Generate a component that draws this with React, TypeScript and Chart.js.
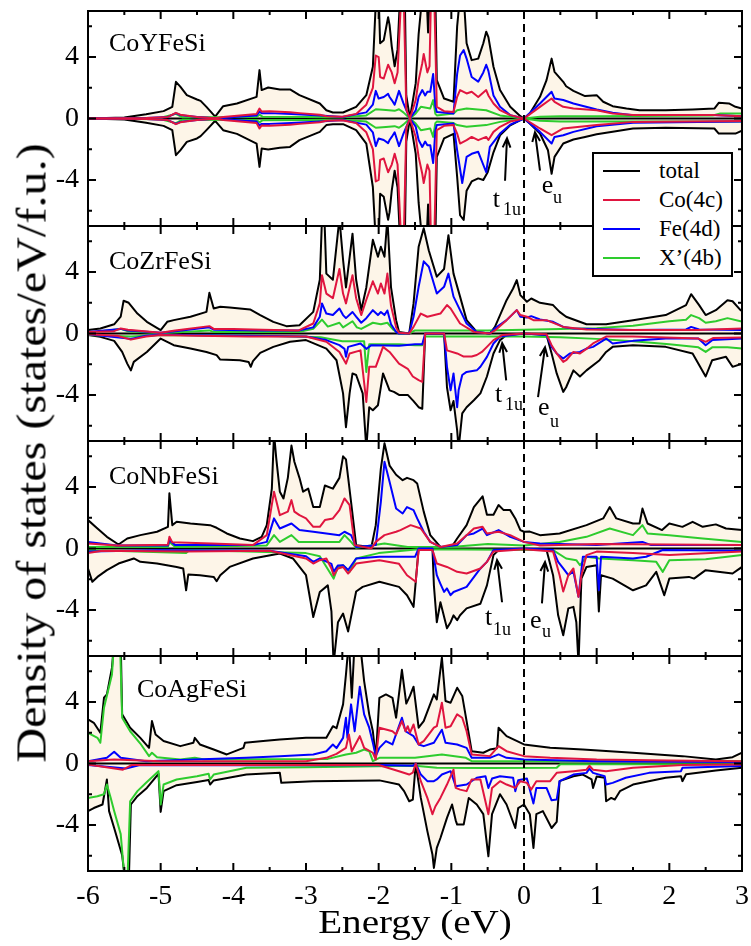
import React, { useEffect, useRef } from "react";
import { Chart, registerables } from "chart.js";
Chart.register(...registerables);

type Pt = [number, number];

// ---------------- DATA (energy in eV, DOS in states/eV/f.u.) ----------------
// Panel 1: CoYFeSi
const p1TotUp: Pt[] = [[-6,0],[-5.5,0.07],[-5.2,0.28],[-4.96,0.48],[-4.84,0.76],[-4.79,2.39],[-4.73,2.07],[-4.64,1.52],[-4.5,1.24],[-4.45,1.15],[-4.37,0.76],[-4.25,0.12],[-4.14,0.8],[-3.95,0.98],[-3.68,1.41],[-3.64,3.15],[-3.61,1.85],[-3.52,2.02],[-3.36,1.89],[-3.22,1.89],[-3.09,1.52],[-2.81,0.98],[-2.72,0.54],[-2.63,0.39],[-2.49,0.39],[-2.31,0.76],[-2.17,1.52],[-2.08,3.37],[-2.04,7.5],[-2.0,8],[-1.98,4.9],[-1.93,5.1],[-1.87,6.6],[-1.85,6.1],[-1.82,4.7],[-1.78,3.4],[-1.74,4.5],[-1.705,8],[-1.64,8],[-1.62,1.5],[-1.57,0],[-1.49,2.3],[-1.45,5.5],[-1.40,8],[-1.34,8],[-1.32,5.6],[-1.30,8],[-1.22,8],[-1.20,2.5],[-1.1,1.3],[-0.97,1.09],[-0.92,6],[-0.88,8],[-0.83,8],[-0.79,4.9],[-0.72,3.8],[-0.63,3.9],[-0.56,4.9],[-0.52,5.65],[-0.49,5.3],[-0.42,3.37],[-0.33,1.85],[-0.19,0.76],[-0.05,0.15],[0,0],[0.08,0.33],[0.22,1.41],[0.31,2.5],[0.38,3.9],[0.42,3.04],[0.54,2.39],[0.58,2.1],[0.68,1.8],[0.84,1.46],[1.0,1.52],[1.09,1.09],[1.22,0.8],[1.41,0.65],[1.59,0.54],[1.95,0.54],[2.32,0.59],[2.62,0.65],[2.68,1.02],[2.82,0.98],[2.91,0.76],[3,0.65]];
const p1TotDn: Pt[] = [[-6,0],[-5.5,-0.07],[-5.2,-0.28],[-4.96,-0.48],[-4.84,-0.76],[-4.79,-2.39],[-4.73,-2.07],[-4.64,-1.52],[-4.5,-1.3],[-4.45,-1.15],[-4.37,-0.76],[-4.25,-0.15],[-4.14,-0.76],[-3.95,-1.0],[-3.68,-1.63],[-3.64,-3.15],[-3.61,-1.96],[-3.52,-2.02],[-3.36,-1.9],[-3.22,-1.85],[-3.09,-1.41],[-2.81,-0.87],[-2.72,-0.43],[-2.63,-0.37],[-2.49,-0.37],[-2.31,-0.76],[-2.17,-1.63],[-2.08,-4.46],[-2.04,-8],[-2.0,-8],[-1.98,-4.9],[-1.93,-5.1],[-1.87,-6.6],[-1.85,-6.1],[-1.82,-4.7],[-1.78,-3.4],[-1.74,-4.5],[-1.705,-8],[-1.64,-8],[-1.62,-1.5],[-1.57,0],[-1.49,-2.3],[-1.45,-5.5],[-1.40,-8],[-1.34,-8],[-1.32,-5.6],[-1.30,-8],[-1.22,-8],[-1.20,-2.5],[-1.1,-1.3],[-0.97,-1.0],[-0.92,-3.8],[-0.88,-6.3],[-0.83,-6.6],[-0.79,-4.7],[-0.72,-4.1],[-0.63,-3.9],[-0.56,-4.0],[-0.5,-3.5],[-0.42,-2.2],[-0.33,-1.1],[-0.19,-0.45],[-0.05,-0.1],[0,0],[0.08,-0.33],[0.22,-0.98],[0.33,-2.07],[0.38,-3.6],[0.42,-2.5],[0.54,-1.63],[0.68,-1.37],[0.84,-1.2],[1.0,-1.02],[1.22,-0.87],[1.5,-0.65],[1.95,-0.6],[2.62,-0.65],[2.68,-0.98],[2.91,-0.98],[3,-0.8]];
const p1CoUp: Pt[] = [[-6,0],[-5.2,0.03],[-4.9,0.1],[-4.79,0.37],[-4.73,0.25],[-4.5,0.1],[-4.25,0.02],[-4.14,0.1],[-3.68,0.3],[-3.64,0.65],[-3.61,0.45],[-3.5,0.48],[-3.22,0.4],[-3.09,0.35],[-2.81,0.25],[-2.72,0.15],[-2.5,0.12],[-2.31,0.3],[-2.17,0.9],[-2.08,2.0],[-2.04,4.1],[-2.0,4.0],[-1.98,2.7],[-1.93,2.6],[-1.87,3.5],[-1.85,3.3],[-1.82,3.0],[-1.78,2.3],[-1.74,3.0],[-1.69,8],[-1.655,8],[-1.62,0.6],[-1.57,0],[-1.49,1.2],[-1.45,2.5],[-1.40,3.6],[-1.38,4.2],[-1.33,3.0],[-1.30,3.4],[-1.28,8],[-1.235,8],[-1.2,0.76],[-1.1,0.48],[-0.97,0.43],[-0.92,1.41],[-0.88,1.85],[-0.79,1.63],[-0.72,1.74],[-0.63,1.4],[-0.52,1.85],[-0.49,1.5],[-0.42,0.98],[-0.33,0.54],[-0.19,0.22],[0,0],[0.22,0.76],[0.38,1.3],[0.42,1.09],[0.54,0.76],[0.68,0.65],[1.0,0.54],[1.22,0.33],[1.5,0.22],[2.6,0.22],[3,0.15]];
const p1CoDn: Pt[] = [[-6,0],[-5.2,-0.03],[-4.9,-0.1],[-4.79,-0.37],[-4.73,-0.25],[-4.5,-0.1],[-4.25,-0.02],[-4.14,-0.1],[-3.68,-0.3],[-3.64,-0.65],[-3.61,-0.45],[-3.5,-0.48],[-3.22,-0.4],[-3.09,-0.35],[-2.81,-0.25],[-2.72,-0.15],[-2.5,-0.12],[-2.31,-0.3],[-2.17,-0.9],[-2.08,-2.0],[-2.04,-4.1],[-2.0,-4.0],[-1.98,-2.7],[-1.93,-2.6],[-1.87,-3.5],[-1.85,-3.3],[-1.82,-3.0],[-1.78,-2.3],[-1.74,-3.0],[-1.69,-8],[-1.655,-8],[-1.62,-0.6],[-1.57,0],[-1.49,-1.2],[-1.45,-2.5],[-1.40,-3.6],[-1.38,-4.2],[-1.33,-3.0],[-1.30,-3.4],[-1.28,-8],[-1.235,-8],[-1.2,-0.76],[-1.1,-0.48],[-0.97,-0.43],[-0.92,-0.98],[-0.88,-1.63],[-0.79,-1.41],[-0.72,-1.2],[-0.63,-1.41],[-0.52,-1.2],[-0.49,-1.4],[-0.42,-0.87],[-0.33,-0.54],[-0.19,-0.2],[0,0],[0.22,-0.65],[0.38,-1.09],[0.54,-0.65],[1.0,-0.43],[1.5,-0.22],[3,-0.17]];
const p1FeUp: Pt[] = [[-6,0],[-5.2,0.03],[-4.9,0.1],[-4.79,0.35],[-4.73,0.22],[-4.5,0.1],[-4.25,0.02],[-3.68,0.2],[-3.64,0.45],[-3.61,0.35],[-3.5,0.35],[-3.2,0.3],[-2.8,0.2],[-2.5,0.1],[-2.17,0.4],[-2.08,0.9],[-2.04,1.8],[-2.0,1.3],[-1.93,1.4],[-1.87,1.6],[-1.85,1.4],[-1.82,1.2],[-1.78,0.9],[-1.72,1.8],[-1.66,1.0],[-1.57,0],[-1.49,0.54],[-1.45,1.4],[-1.40,1.85],[-1.36,1.5],[-1.33,1.74],[-1.29,1.74],[-1.25,2.9],[-1.22,0.8],[-1.2,0.43],[-0.97,0.33],[-0.92,2.9],[-0.88,4.1],[-0.83,4.45],[-0.79,3.9],[-0.72,2.7],[-0.63,2.4],[-0.56,3.0],[-0.52,3.5],[-0.49,3.1],[-0.42,1.5],[-0.33,0.76],[-0.19,0.22],[0,0],[0.22,0.98],[0.38,1.74],[0.42,1.3],[0.54,1.2],[0.68,0.98],[1.0,0.59],[1.22,0.37],[1.5,0.22],[2.6,0.22],[3,0.15]];
const p1FeDn: Pt[] = [[-6,0],[-5.2,-0.03],[-4.9,-0.1],[-4.79,-0.35],[-4.73,-0.22],[-4.5,-0.1],[-4.25,-0.02],[-3.68,-0.2],[-3.64,-0.45],[-3.61,-0.35],[-3.5,-0.35],[-3.2,-0.3],[-2.8,-0.2],[-2.5,-0.1],[-2.17,-0.4],[-2.08,-0.9],[-2.04,-1.8],[-2.0,-1.3],[-1.93,-1.4],[-1.87,-1.6],[-1.85,-1.4],[-1.82,-1.2],[-1.78,-0.9],[-1.72,-1.8],[-1.66,-1.0],[-1.57,0],[-1.49,-0.54],[-1.45,-1.4],[-1.40,-1.85],[-1.36,-1.5],[-1.33,-1.74],[-1.29,-1.74],[-1.25,-2.9],[-1.22,-0.8],[-1.2,-0.43],[-0.97,-0.33],[-0.92,-2.07],[-0.85,-4.2],[-0.79,-2.5],[-0.72,-2.3],[-0.63,-2.17],[-0.52,-3.5],[-0.47,-1.85],[-0.33,-0.98],[-0.19,-0.4],[0,0],[0.22,-0.87],[0.38,-1.63],[0.42,-1.2],[0.54,-1.09],[0.68,-0.87],[1.0,-0.5],[1.5,-0.28],[3,-0.2]];
const p1XUp: Pt[] = [[-6,0],[-5.0,0.05],[-4.79,0.3],[-4.7,0.08],[-3.68,0.1],[-3.64,0.25],[-3.6,0.12],[-2.5,0.08],[-2.17,0.2],[-2.04,0.6],[-1.9,0.55],[-1.78,0.5],[-1.72,0.6],[-1.66,0.4],[-1.57,0],[-1.49,0.33],[-1.42,0.76],[-1.29,0.65],[-1.25,1.2],[-1.22,0.3],[-1.2,0.2],[-0.97,0.33],[-0.92,0.54],[-0.79,0.65],[-0.52,0.54],[-0.33,0.2],[0,0],[0.22,0.12],[0.5,0.15],[1.0,0.15],[2.6,0.2],[2.7,0.33],[3,0.33]];
const p1XDn: Pt[] = [[-6,0],[-5.0,-0.05],[-4.79,-0.3],[-4.7,-0.08],[-3.68,-0.1],[-3.64,-0.25],[-3.6,-0.12],[-2.5,-0.08],[-2.17,-0.2],[-2.04,-0.6],[-1.9,-0.55],[-1.78,-0.5],[-1.72,-0.6],[-1.66,-0.4],[-1.57,0],[-1.49,-0.33],[-1.42,-0.76],[-1.29,-0.65],[-1.25,-1.2],[-1.22,-0.3],[-1.2,-0.2],[-0.97,-0.3],[-0.92,-0.43],[-0.79,-0.54],[-0.52,-0.43],[-0.33,-0.22],[0,0],[0.22,-0.15],[0.5,-0.2],[1,-0.2],[3,-0.2]];

// Panel 2: CoZrFeSi
const p2TotUp: Pt[] = [[-6,0.22],[-5.83,0.33],[-5.64,0.6],[-5.55,1.1],[-5.51,2.13],[-5.44,2.0],[-5.32,1.3],[-5.19,0.76],[-5.0,0.22],[-4.91,0.76],[-4.82,0.87],[-4.59,1.09],[-4.37,1.41],[-4.33,2.65],[-4.27,1.63],[-4.18,1.74],[-4.05,1.7],[-3.77,1.57],[-3.63,1.2],[-3.45,0.76],[-3.27,0.48],[-3.09,0.54],[-2.9,1.41],[-2.81,3.5],[-2.78,7.5],[-2.75,8],[-2.72,3.9],[-2.63,3.5],[-2.54,7.5],[-2.49,4.8],[-2.45,3.0],[-2.36,6.5],[-2.31,3.5],[-2.24,1.52],[-2.17,3.0],[-2.08,6.1],[-2.01,5.0],[-1.97,5.65],[-1.92,5.0],[-1.88,7.5],[-1.83,3.0],[-1.76,0.87],[-1.72,0.1],[-1.58,0],[-1.52,1.96],[-1.45,5.65],[-1.38,6.85],[-1.31,5.4],[-1.2,3.7],[-1.1,4.2],[-1.04,6.4],[-0.97,3.9],[-0.88,2.4],[-0.79,0.87],[-0.65,0.1],[-0.47,0],[-0.4,0.43],[-0.24,2.17],[-0.15,2.93],[-0.1,3.48],[-0.05,2.5],[0.04,2.07],[0.1,2.28],[0.22,2.0],[0.4,1.85],[0.49,1.41],[0.58,1.09],[0.86,0.6],[1.13,0.6],[1.5,0.87],[1.95,1.2],[2.23,1.85],[2.3,2.56],[2.41,1.85],[2.5,1.2],[2.64,1.52],[2.8,2.17],[2.87,2.1],[2.98,1.52],[3,1.5]];
const p2TotDn: Pt[] = [[-6,-0.1],[-5.83,-0.22],[-5.64,-0.48],[-5.53,-1.2],[-5.46,-1.96],[-5.41,-2.4],[-5.37,-1.85],[-5.19,-1.2],[-5.0,-0.33],[-4.91,-0.54],[-4.82,-0.76],[-4.59,-0.98],[-4.37,-1.2],[-4.23,-1.41],[-4.18,-1.7],[-3.91,-1.74],[-3.79,-1.85],[-3.76,-2.17],[-3.73,-1.8],[-3.63,-1.26],[-3.45,-0.87],[-3.22,-0.54],[-3.0,-0.43],[-2.72,-0.98],[-2.58,-1.74],[-2.49,-3.9],[-2.45,-6.1],[-2.4,-3.9],[-2.36,-2.6],[-2.31,-2.7],[-2.22,-3.9],[-2.17,-7.5],[-2.13,-4.8],[-2.08,-5.0],[-2.01,-4.67],[-1.94,-2.6],[-1.85,-3.7],[-1.79,-3.8],[-1.72,-4.0],[-1.6,-4.0],[-1.52,-4.4],[-1.45,-4.8],[-1.40,-4.9],[-1.36,0],[-1.1,0],[-1.06,-3.5],[-1.01,-5.0],[-0.97,-4.4],[-0.92,-6.3],[-0.9,-7.5],[-0.85,-5.2],[-0.79,-4.8],[-0.69,-4.35],[-0.6,-3.9],[-0.51,-2.8],[-0.42,-1.3],[-0.33,-0.43],[-0.24,-0.1],[0,0],[0.31,-0.1],[0.38,-1.3],[0.45,-2.6],[0.54,-3.8],[0.58,-3.5],[0.68,-2.4],[0.77,-2.8],[0.86,-2.4],[1.04,-1.74],[1.13,-1.2],[1.22,-0.87],[1.5,-0.76],[1.95,-0.87],[2.32,-1.3],[2.5,-2.8],[2.59,-1.74],[2.78,-1.52],[2.87,-2.17],[3,-1.96]];
const p2CoUp: Pt[] = [[-6,0.1],[-5.64,0.15],[-5.55,0.33],[-5.45,0.25],[-5.0,0.05],[-4.8,0.2],[-4.33,0.48],[-4.27,0.3],[-4.0,0.3],[-3.6,0.25],[-3.1,0.2],[-2.9,0.65],[-2.81,1.96],[-2.78,3.8],[-2.72,2.6],[-2.63,2.3],[-2.54,4.2],[-2.49,2.6],[-2.45,1.96],[-2.36,3.8],[-2.31,2.3],[-2.24,1.2],[-2.17,2.2],[-2.08,3.4],[-2.01,2.6],[-1.97,3.26],[-1.92,2.6],[-1.88,3.9],[-1.83,1.8],[-1.76,0.4],[-1.72,0.05],[-1.58,0],[-1.52,0.43],[-1.42,1.3],[-1.33,1.09],[-1.15,1.3],[-1.06,1.85],[-1.01,1.63],[-0.88,0.65],[-0.69,0.1],[-0.47,0],[-0.4,0.2],[-0.24,0.87],[-0.1,1.52],[-0.05,1.2],[0.04,1.09],[0.13,0.87],[0.31,0.87],[0.54,0.43],[0.86,0.26],[1.5,0.22],[2.4,0.22],[3,0.33]];
const p2CoDn: Pt[] = [[-6,-0.05],[-5.6,-0.15],[-5.41,-0.4],[-5.2,-0.2],[-5.0,-0.1],[-4.5,-0.15],[-3.8,-0.2],[-3.0,-0.2],[-2.72,-0.54],[-2.54,-1.2],[-2.45,-1.96],[-2.4,-1.3],[-2.25,-1.1],[-2.17,-4.46],[-2.13,-2.17],[-2.04,-2.17],[-1.94,-0.87],[-1.85,-1.2],[-1.72,-1.96],[-1.6,-2.3],[-1.53,-2.8],[-1.45,-3.04],[-1.40,-3.15],[-1.36,0],[-1.1,0],[-1.06,-1.1],[-0.92,-1.3],[-0.83,-1.5],[-0.72,-1.5],[-0.65,-1.4],[-0.58,-1.2],[-0.51,-0.87],[-0.42,-0.43],[-0.3,-0.1],[0,0],[0.31,-0.05],[0.38,-0.76],[0.45,-1.3],[0.54,-1.85],[0.58,-1.74],[0.68,-1.2],[0.77,-1.3],[0.86,-1.0],[0.95,-0.65],[1.13,-0.2],[1.5,-0.2],[2.4,-0.33],[2.5,-0.54],[2.6,-0.3],[3,-0.26]];
const p2FeUp: Pt[] = [[-6,0.1],[-5.55,0.3],[-5.45,0.2],[-5.0,0.05],[-4.8,0.15],[-4.33,0.4],[-4.27,0.25],[-3.6,0.2],[-3.1,0.2],[-2.9,0.4],[-2.81,1.09],[-2.78,1.96],[-2.72,1.3],[-2.63,1.2],[-2.54,1.63],[-2.49,1.2],[-2.45,1.0],[-2.36,1.4],[-2.31,1.1],[-2.24,0.7],[-2.17,1.0],[-2.08,1.52],[-2.01,1.2],[-1.97,1.4],[-1.92,1.2],[-1.88,1.5],[-1.83,0.6],[-1.76,0.1],[-1.72,0],[-1.58,0],[-1.52,1.09],[-1.45,3.04],[-1.38,4.7],[-1.31,4.35],[-1.2,2.6],[-1.1,3.04],[-1.04,3.9],[-0.97,2.4],[-0.88,1.52],[-0.79,0.65],[-0.65,0.1],[-0.47,0],[-0.4,0.33],[-0.24,0.87],[-0.1,1.52],[-0.05,1.09],[0.04,1.04],[0.1,1.13],[0.22,0.91],[0.4,0.76],[0.54,0.43],[0.68,0.33],[1.5,0.22],[2.23,0.26],[2.3,0.43],[2.41,0.26],[3,0.22]];
const p2FeDn: Pt[] = [[-6,-0.05],[-5.41,-0.35],[-5.2,-0.15],[-5.0,-0.08],[-4.5,-0.12],[-3.8,-0.15],[-3.0,-0.2],[-2.72,-0.43],[-2.54,-0.76],[-2.47,-1.0],[-2.45,-1.52],[-2.42,-0.87],[-2.25,-0.65],[-2.17,-1.0],[-2.1,-0.76],[-1.72,-0.8],[-1.5,-0.7],[-1.40,-0.7],[-1.36,0],[-1.1,0],[-1.06,-2.17],[-1.01,-3.7],[-0.97,-2.6],[-0.92,-4.8],[-0.9,-3.7],[-0.85,-2.7],[-0.79,-2.5],[-0.65,-2.4],[-0.6,-2.17],[-0.51,-1.52],[-0.42,-0.65],[-0.33,-0.2],[0,0],[0.31,-0.1],[0.38,-0.87],[0.45,-1.3],[0.54,-1.63],[0.63,-1.3],[0.77,-1.2],[0.86,-0.98],[0.95,-0.87],[1.13,-0.33],[1.22,-0.65],[1.5,-0.48],[1.95,-0.33],[2.4,-0.33],[2.5,-0.76],[2.59,-0.43],[3,-0.33]];
const p2XUp: Pt[] = [[-6,0.05],[-5.55,0.3],[-5.45,0.15],[-5.0,0.02],[-4.33,0.2],[-4.27,0.1],[-3.1,0.1],[-2.9,0.3],[-2.78,0.9],[-2.7,0.45],[-2.54,0.7],[-2.49,0.4],[-2.36,0.8],[-2.3,0.4],[-2.24,0.3],[-2.08,0.7],[-1.97,0.6],[-1.88,0.7],[-1.8,0.25],[-1.72,0],[-1.58,0],[-1.5,0.2],[-0.5,0.2],[0,0.25],[0.5,0.3],[1.0,0.35],[1.5,0.5],[2.0,0.8],[2.23,0.9],[2.3,1.2],[2.41,1.0],[2.5,0.7],[2.64,0.8],[2.8,1.0],[2.98,0.8],[3,0.8]];
const p2XDn: Pt[] = [[-6,-0.1],[-5.41,-0.2],[-5.0,-0.1],[-4.5,-0.12],[-3.5,-0.15],[-2.8,-0.25],[-2.5,-0.5],[-2.31,-0.5],[-2.2,-0.5],[-2.17,-2.5],[-2.13,-0.7],[-1.72,-0.7],[-1.5,-0.76],[-1.40,-0.76],[-1.36,-0.2],[0,-0.2],[0.5,-0.25],[1.0,-0.35],[1.5,-0.5],[2.0,-0.7],[2.4,-0.9],[2.5,-1.2],[2.59,-0.9],[2.8,-0.9],[3,-0.98]];

// Panel 3: CoNbFeSi
const p3TotUp: Pt[] = [[-6,1.85],[-5.87,1.3],[-5.74,0.76],[-5.58,0.26],[-5.46,0.65],[-5.28,0.87],[-5.05,1.09],[-4.9,1.41],[-4.88,3.6],[-4.84,1.52],[-4.78,1.74],[-4.59,1.63],[-4.32,1.52],[-4.23,1.35],[-4.09,0.98],[-3.91,0.65],[-3.73,0.48],[-3.61,0.76],[-3.54,1.52],[-3.47,3.9],[-3.44,7.5],[-3.41,5.9],[-3.36,3.7],[-3.31,3.26],[-3.25,4.6],[-3.2,6.7],[-3.16,5.65],[-3.09,4.6],[-3.04,3.7],[-2.97,3.9],[-2.9,2.7],[-2.81,2.7],[-2.74,4.1],[-2.63,3.9],[-2.54,4.6],[-2.49,6.0],[-2.45,5.8],[-2.38,3.04],[-2.31,0.22],[-2.1,0.1],[-2.04,1.52],[-1.97,5.2],[-1.92,6.85],[-1.85,5.4],[-1.76,4.8],[-1.67,4.45],[-1.61,4.6],[-1.52,4.45],[-1.47,4.24],[-1.38,2.4],[-1.29,0.87],[-1.15,0.1],[-1.01,0],[-0.92,0.65],[-0.79,1.52],[-0.69,2.7],[-0.57,3.4],[-0.51,2.2],[-0.42,2.2],[-0.35,2.83],[-0.28,2.5],[-0.19,2.5],[-0.12,1.96],[-0.05,1.2],[0,1.09],[0.08,1.1],[0.22,0.87],[0.49,0.98],[0.86,1.52],[1.09,1.96],[1.18,2.7],[1.27,1.96],[1.5,1.63],[1.59,1.63],[1.63,2.6],[1.7,1.63],[1.9,1.2],[2.0,1.63],[2.18,1.41],[2.32,1.74],[2.46,1.41],[2.64,1.57],[2.78,1.3],[3,1.2]];
const p3TotDn: Pt[] = [[-6,-1.3],[-5.94,-2.17],[-5.87,-1.85],[-5.74,-1.41],[-5.58,-0.98],[-5.37,-0.65],[-5.28,-0.87],[-5.05,-0.98],[-4.78,-1.2],[-4.69,-1.3],[-4.65,-2.72],[-4.62,-1.7],[-4.46,-1.74],[-4.27,-1.85],[-4.23,-2.13],[-4.18,-1.74],[-4.05,-1.2],[-3.73,-0.65],[-3.36,-0.33],[-3.18,-0.65],[-3.0,-1.74],[-2.9,-4.46],[-2.81,-2.83],[-2.7,-2.4],[-2.65,-4.1],[-2.62,-7.5],[-2.56,-4.8],[-2.49,-4.24],[-2.42,-5.4],[-2.31,-2.8],[-2.22,-2.5],[-1.99,-2.17],[-1.72,-2.5],[-1.61,-3.04],[-1.52,-3.8],[-1.45,0],[-1.26,0],[-1.24,-2.4],[-1.2,-4.8],[-1.15,-3.5],[-1.06,-5.2],[-1.01,-4.8],[-0.97,-4.35],[-0.92,-4.67],[-0.88,-4.35],[-0.79,-3.9],[-0.6,-3.6],[-0.51,-2.4],[-0.42,-0.43],[-0.33,0],[0,0],[0.31,-0.1],[0.4,-1.74],[0.47,-4.35],[0.54,-5.65],[0.61,-3.9],[0.68,-3.8],[0.72,-4.8],[0.75,-7.5],[0.79,-1.96],[0.86,-1.2],[1.0,-1.09],[1.03,-4.1],[1.06,-1.74],[1.22,-1.96],[1.5,-2.72],[1.68,-2.4],[1.82,-1.52],[1.93,-3.04],[2.0,-1.96],[2.27,-1.85],[2.34,-1.96],[2.5,-1.41],[2.87,-1.63],[3,-1.2]];
const p3CoUp: Pt[] = [[-6,0.33],[-5.6,0.2],[-4.9,0.25],[-4.88,0.76],[-4.84,0.4],[-4.3,0.33],[-3.73,0.22],[-3.54,0.87],[-3.44,3.7],[-3.36,2.17],[-3.25,2.4],[-3.2,3.15],[-3.16,2.4],[-3.09,2.17],[-3.0,1.96],[-2.9,1.41],[-2.81,1.41],[-2.74,1.85],[-2.63,1.96],[-2.54,2.5],[-2.47,3.26],[-2.4,2.83],[-2.33,0.22],[-2.1,0],[-2.04,0.43],[-1.92,0.87],[-1.76,1.09],[-1.7,1.2],[-1.56,1.52],[-1.42,1.3],[-1.29,0.43],[-1.15,0.1],[-0.92,0.33],[-0.79,0.87],[-0.69,1.3],[-0.57,1.41],[-0.51,0.98],[-0.35,1.09],[-0.19,0.87],[0,0.43],[0.22,0.2],[1.0,0.3],[3,0.22]];
const p3CoDn: Pt[] = [[-6,-0.3],[-5.8,-0.15],[-4.65,-0.2],[-3.5,-0.15],[-3.0,-0.65],[-2.9,-0.98],[-2.81,-0.76],[-2.72,-0.65],[-2.65,-1.3],[-2.62,-1.74],[-2.56,-1.3],[-2.49,-1.2],[-2.42,-1.63],[-2.31,-0.98],[-1.99,-0.76],[-1.72,-1.0],[-1.61,-1.74],[-1.49,-2.17],[-1.45,-0.1],[-1.26,-0.1],[-1.2,-0.98],[-1.06,-1.2],[-0.92,-1.52],[-0.79,-1.63],[-0.6,-1.3],[-0.51,-0.87],[-0.42,-0.2],[0,-0.05],[0.4,-0.2],[0.49,-1.74],[0.54,-2.8],[0.61,-1.74],[0.68,-1.3],[0.75,-3.15],[0.79,-1.74],[0.86,-0.43],[1.0,-0.2],[1.5,-0.3],[2.0,-0.43],[3,-0.2]];
const p3FeUp: Pt[] = [[-6,0.43],[-5.6,0.2],[-4.9,0.2],[-4.88,0.54],[-4.8,0.22],[-3.73,0.22],[-3.54,0.43],[-3.44,1.96],[-3.36,1.3],[-3.2,1.63],[-3.09,1.2],[-2.9,1.09],[-2.54,0.87],[-2.47,1.09],[-2.38,0.87],[-2.31,0.1],[-2.04,0.22],[-1.97,3.04],[-1.92,5.65],[-1.85,4.35],[-1.76,2.6],[-1.67,2.28],[-1.61,2.7],[-1.52,2.5],[-1.47,1.96],[-1.38,1.09],[-1.29,0.43],[-1.15,0.1],[-0.92,0.22],[-0.79,0.87],[-0.69,0.98],[-0.57,1.3],[-0.51,0.87],[-0.35,1.2],[-0.19,0.76],[0,0.43],[0.22,0.33],[1.0,0.22],[1.63,0.43],[1.75,0.22],[3,0.22]];
const p3FeDn: Pt[] = [[-6,-0.2],[-5.0,-0.12],[-3.5,-0.15],[-3.0,-0.5],[-2.9,-0.87],[-2.81,-0.65],[-2.65,-1.0],[-2.62,-1.52],[-2.56,-1.1],[-2.49,-1.09],[-2.42,-1.4],[-2.31,-0.65],[-1.99,-0.54],[-1.5,-0.54],[-1.45,0],[-1.26,0],[-1.2,-1.74],[-1.15,-2.3],[-1.1,-2.83],[-1.06,-2.6],[-1.01,-3.04],[-0.97,-2.83],[-0.79,-2.5],[-0.6,-1.3],[-0.51,-0.87],[-0.42,-0.1],[0,0],[0.4,-0.1],[0.47,-0.87],[0.54,-1.3],[0.61,-1.74],[0.68,-1.5],[0.75,-3.15],[0.81,-0.54],[1.0,-0.54],[1.03,-2.72],[1.06,-0.54],[1.5,-0.65],[1.68,-0.54],[1.91,-0.1],[3,-0.15]];
const p3XUp: Pt[] = [[-6,0.1],[-4.9,0.1],[-4.88,0.43],[-4.8,0.1],[-3.54,0.2],[-3.44,0.87],[-3.36,0.43],[-3.2,0.87],[-3.1,0.43],[-2.54,0.43],[-2.47,0.87],[-2.38,0.43],[-2.31,0.05],[-1.92,0.33],[-1.6,0.1],[-1.0,0.1],[-0.5,0.3],[0,0.2],[0.49,0.43],[0.86,0.76],[1.18,1.3],[1.5,0.87],[1.63,1.52],[1.7,0.98],[2.0,0.87],[2.46,0.65],[3,0.43]];
const p3XDn: Pt[] = [[-6,-0.1],[-4.65,-0.3],[-4.6,-0.1],[-3.0,-0.3],[-2.81,-0.5],[-2.62,-1.96],[-2.56,-1.2],[-2.49,-1.09],[-2.4,-1.52],[-2.31,-0.65],[-2.0,-0.3],[-1.45,-0.05],[0.4,-0.1],[0.58,-0.65],[0.72,-0.76],[0.77,-1.09],[0.86,-0.54],[1.04,-0.65],[1.5,-0.76],[1.82,-0.87],[1.91,-1.52],[2.0,-0.76],[2.5,-0.7],[3,-0.43]];

// Panel 4: CoAgFeSi
const p4TotUp: Pt[] = [[-6,2.87],[-5.92,2.65],[-5.83,2.0],[-5.78,4.28],[-5.74,4.5],[-5.67,6.24],[-5.64,8],[-5.55,8],[-5.53,3.2],[-5.42,2.33],[-5.28,1.67],[-5.16,1.02],[-5.12,2.76],[-5.07,1.89],[-4.96,1.46],[-4.73,1.13],[-4.55,1.35],[-4.53,1.67],[-4.46,1.24],[-4.27,0.91],[-4.09,0.59],[-3.86,1.02],[-3.84,1.35],[-3.59,1.46],[-3.36,1.57],[-3.0,1.67],[-2.72,1.67],[-2.63,2.43],[-2.58,2.3],[-2.49,3.85],[-2.45,5.8],[-2.41,8],[-2.37,4.28],[-2.33,8],[-2.26,8],[-2.2,5.37],[-2.13,3.2],[-2.08,2.1],[-2.04,0.37],[-1.99,4.28],[-1.9,4.5],[-1.81,4.28],[-1.76,2.98],[-1.68,6.1],[-1.62,3.9],[-1.57,4.4],[-1.52,5.0],[-1.45,2.33],[-1.38,2.76],[-1.24,4.5],[-1.2,4.17],[-1.13,6.9],[-1.08,4.07],[-1.01,3.96],[-0.92,4.93],[-0.85,4.4],[-0.79,2.76],[-0.72,0.8],[-0.56,0.7],[-0.47,0.91],[-0.37,1.0],[-0.35,2.33],[-0.24,1.78],[0,1.24],[0.36,1.02],[0.81,0.91],[1.5,0.7],[2.18,0.48],[2.64,0.26],[2.87,0.41],[3,0.7]];
const p4TotDn: Pt[] = [[-6,-3.1],[-5.92,-2.9],[-5.8,-2.67],[-5.74,-1.04],[-5.71,-3.1],[-5.64,-4.2],[-5.53,-5.98],[-5.48,-8],[-5.44,-8],[-5.41,-2.67],[-5.32,-2.13],[-5.19,-1.59],[-5.03,-0.67],[-5.0,-3.15],[-4.96,-1.8],[-4.78,-1.41],[-4.5,-1.2],[-4.34,-1.07],[-4.32,-1.37],[-4.27,-1.1],[-3.82,-0.72],[-3.36,-0.61],[-3.34,-1.26],[-2.9,-1.15],[-1.99,-1.1],[-1.72,-1.37],[-1.65,-1.8],[-1.58,-2.46],[-1.53,-2.35],[-1.49,0],[-1.42,-2.24],[-1.33,-4.4],[-1.26,-5.93],[-1.24,-6.8],[-1.2,-5.5],[-1.15,-4.85],[-1.06,-3.54],[-0.99,-2.67],[-0.94,-3.7],[-0.92,-3.98],[-0.83,-3.98],[-0.76,-2.24],[-0.65,-2.67],[-0.56,-3.3],[-0.49,-6.04],[-0.44,-3.3],[-0.33,-2.0],[-0.24,-2.67],[-0.12,-4.2],[-0.08,-2.9],[0,-2.67],[0.08,-3.3],[0.13,-5.5],[0.17,-3.3],[0.26,-3.1],[0.38,-4.2],[0.45,-3.8],[0.49,-1.15],[0.68,-0.83],[0.81,-0.72],[0.93,-1.04],[0.95,-1.59],[1.0,-0.85],[1.11,-0.93],[1.13,-2.46],[1.2,-2.24],[1.25,-2.35],[1.32,-1.8],[1.5,-1.37],[1.95,-0.93],[2.16,-0.83],[2.18,-1.15],[2.23,-0.7],[2.64,-0.46],[3,-0.28]];
const p4CoUp: Pt[] = [[-6,0.15],[-5.64,0.26],[-5,0.15],[-3,0.15],[-2.72,0.37],[-2.58,0.63],[-2.45,1.02],[-2.41,1.89],[-2.37,0.8],[-2.26,1.78],[-2.2,1.02],[-2.08,0.7],[-2.04,0.26],[-1.99,2.33],[-1.9,2.22],[-1.81,2.1],[-1.76,1.89],[-1.68,2.76],[-1.63,2.1],[-1.6,2.43],[-1.57,2.0],[-1.52,2.54],[-1.45,1.24],[-1.38,1.46],[-1.24,2.33],[-1.2,2.43],[-1.13,3.96],[-1.08,2.33],[-1.01,2.43],[-0.92,3.2],[-0.85,2.98],[-0.79,2.1],[-0.72,0.59],[-0.47,0.48],[-0.35,1.13],[-0.24,0.8],[0,0.48],[0.36,0.37],[1.0,0.26],[2.0,0.2],[3,0.15]];
const p4CoDn: Pt[] = [[-6,-0.07],[-5.52,-0.4],[-5.4,-0.1],[-2,-0.1],[-1.72,-0.5],[-1.58,-0.72],[-1.53,-0.6],[-1.49,0],[-1.42,-1.15],[-1.33,-2.24],[-1.26,-3.3],[-1.22,-2.8],[-1.15,-2.24],[-1.06,-1.37],[-0.97,-0.4],[-0.94,-1.59],[-0.88,-1.7],[-0.79,-1.8],[-0.72,-1.04],[-0.6,-1.04],[-0.49,-3.3],[-0.44,-1.59],[-0.33,-1.15],[-0.24,-1.37],[-0.12,-1.59],[-0.05,-1.15],[0.04,-1.26],[0.1,-1.7],[0.17,-1.15],[0.36,-1.15],[0.45,-0.61],[0.68,-0.5],[0.86,-0.4],[0.9,-0.15],[0.95,-0.4],[1.13,-0.5],[1.5,-0.28],[2.18,-0.1],[3,-0.07]];
const p4FeUp: Pt[] = [[-6,0.15],[-5.74,0.37],[-5.64,0.76],[-5.55,0.37],[-5.2,0.15],[-4.53,0.26],[-3.82,0.37],[-3.36,0.48],[-2.9,0.59],[-2.72,0.8],[-2.63,1.24],[-2.58,1.0],[-2.49,1.67],[-2.45,2.98],[-2.43,1.67],[-2.38,3.85],[-2.33,2.1],[-2.26,5.0],[-2.2,3.2],[-2.13,2.33],[-2.08,1.35],[-2.04,0.48],[-1.99,1.02],[-1.9,1.46],[-1.81,1.24],[-1.68,2.98],[-1.63,2.1],[-1.52,1.78],[-1.45,1.24],[-1.38,1.13],[-1.24,1.35],[-1.13,2.2],[-1.08,1.35],[-0.92,1.24],[-0.79,1.02],[-0.72,0.37],[-0.47,0.37],[-0.35,0.59],[-0.24,0.37],[0,0.26],[1.0,0.15],[3,0.1]];
const p4FeDn: Pt[] = [[-6,-0.1],[-5.48,-0.33],[-5.3,-0.12],[-2,-0.1],[-1.53,-0.15],[-1.49,0],[-1.42,-0.72],[-1.33,-1.15],[-1.24,-1.15],[-1.2,-1.04],[-1.13,-0.72],[-1.01,-0.5],[-0.94,-1.48],[-0.79,-1.37],[-0.65,-0.93],[-0.53,-0.83],[-0.49,-1.59],[-0.44,-0.98],[-0.33,-0.83],[-0.15,-0.93],[-0.12,-1.8],[-0.08,-1.09],[0.04,-0.98],[0.13,-2.6],[0.17,-1.59],[0.31,-1.59],[0.38,-2.4],[0.45,-2.35],[0.49,-1.15],[0.68,-0.72],[0.86,-0.61],[0.9,-0.33],[0.95,-0.61],[1.11,-0.83],[1.13,-1.37],[1.22,-1.26],[1.4,-0.93],[1.72,-0.61],[2.16,-0.5],[2.18,-0.28],[3,-0.17]];
const p4XUp: Pt[] = [[-6,2.0],[-5.87,1.67],[-5.83,1.35],[-5.78,3.63],[-5.67,5.8],[-5.64,8],[-5.56,8],[-5.53,2.98],[-5.42,2.1],[-5.28,1.3],[-5.16,0.48],[-5.12,0.7],[-5.05,0.4],[-4.73,0.26],[-4.53,0.37],[-4.4,0.26],[-2.7,0.3],[-2.45,0.59],[-2.31,0.7],[-2.2,0.91],[-2.13,0.8],[-2.08,0.15],[-1.99,0.37],[-1.5,0.37],[-1.13,0.59],[-0.8,0.37],[-0.72,0.15],[0,0.15],[3,0.15]];
const p4XDn: Pt[] = [[-6,-2.24],[-5.87,-2.13],[-5.78,-2.0],[-5.74,-1.37],[-5.69,-2.2],[-5.64,-3.1],[-5.55,-4.6],[-5.51,-6.8],[-5.46,-8],[-5.42,-2.46],[-5.32,-1.8],[-5.19,-1.2],[-5.03,-0.5],[-5.0,-2.67],[-4.96,-1.37],[-4.78,-1.04],[-4.5,-0.83],[-4.34,-0.67],[-4.32,-1.04],[-4.27,-0.72],[-3.82,-0.28],[-3.0,-0.24],[-1.5,-0.15],[-1.2,-0.28],[-0.5,-0.3],[0.45,-0.28],[0.5,-0.05],[3,-0.05]];

const ZERO_LINE: Pt[] = [[-6, 0], [3, 0]];
const PANEL_NAMES = ["CoYFeSi", "CoZrFeSi", "CoNbFeSi", "CoAgFeSi"];
const LEGEND_LABELS = ["total", "Co(4c)", "Fe(4d)", "X\u2019(4b)"];
const X_TICK_LABELS = [-6, -5, -4, -3, -2, -1, 0, 1, 2, 3];
const X_MAJOR = [-5, -4, -3, -2, -1, 0, 1, 2];
const X_MINOR = [-5.5, -4.5, -3.5, -2.5, -1.5, -0.5, 0.5, 1.5, 2.5];
const Y_MAJOR = [-4, 0, 4];
const Y_MINOR = [-6, -2, 2, 6];

// Annotation anchors (data coordinates): [tip, tail, main text, subscript]
const ANN_T1U: Pt[][] = [
  [[-0.234, -1.29], [-0.261, -4.05], [-0.43, -5.79], [-0.29, -6.3]],
  [[-0.30, -0.63], [-0.245, -3.05], [-0.40, -4.48], [-0.26, -4.95]],
  [[-0.371, -0.76], [-0.302, -3.5], [-0.536, -5.0], [-0.426, -5.66]],
];
const ANN_EU: Pt[][] = [
  [[0.151, -0.9], [0.22, -3.4], [0.243, -4.87], [0.399, -5.53]],
  [[0.289, -0.9], [0.193, -4.15], [0.193, -5.33], [0.357, -6.11]],
  [[0.289, -0.89], [0.247, -3.57], [0.082, -5.2], [0.247, -5.79]],
];

const PANELS = [
  { tot: [p1TotUp, p1TotDn], co: [p1CoUp, p1CoDn], fe: [p1FeUp, p1FeDn], xx: [p1XUp, p1XDn] },
  { tot: [p2TotUp, p2TotDn], co: [p2CoUp, p2CoDn], fe: [p2FeUp, p2FeDn], xx: [p2XUp, p2XDn] },
  { tot: [p3TotUp, p3TotDn], co: [p3CoUp, p3CoDn], fe: [p3FeUp, p3FeDn], xx: [p3XUp, p3XDn] },
  { tot: [p4TotUp, p4TotDn], co: [p4CoUp, p4CoDn], fe: [p4FeUp, p4FeDn], xx: [p4XUp, p4XDn] },
];

// ---------------- STYLE / LAYOUT ----------------
const W = 751;
const H = 946;
const PANEL_TOP = 11;
const PANEL_H = 215;
const PAD = 6;
const AXIS_W = 88;
const RIGHT_PAD = 9;
const X_AXIS_H = 75;
const BLACK = "#000000";
const RED = "#e0153f";
const BLUE = "#0000ff";
const GREEN = "#2ecc2e";
const BEIGE = "rgb(253,245,232)";
const SERIF = '"Liberation Serif", "Times New Roman", serif';
const LABEL_OFFSETS: Pt[] = [[21, 33], [21, 36], [21, 36], [49, 34]];

function arrow(ctx: CanvasRenderingContext2D, x1: number, y1: number, x2: number, y2: number) {
  const ang = Math.atan2(y2 - y1, x2 - x1);
  const L = 10, A = 0.4;
  ctx.beginPath();
  ctx.moveTo(x1, y1);
  ctx.lineTo(x2, y2);
  ctx.moveTo(x2 - L * Math.cos(ang - A), y2 - L * Math.sin(ang - A));
  ctx.lineTo(x2, y2);
  ctx.lineTo(x2 - L * Math.cos(ang + A), y2 - L * Math.sin(ang + A));
  ctx.stroke();
}

const framePlugin = {
  id: "frame",
  afterDatasetsDraw(chart: any, _args: any, opts: any) {
    const { ctx, chartArea: a, scales } = chart;
    const xs = scales.x, ys = scales.y;
    ctx.save();
    ctx.strokeStyle = BLACK;
    ctx.fillStyle = BLACK;
    ctx.lineWidth = 2;
    // Fermi level
    ctx.setLineDash([8, 5]);
    const x0 = xs.getPixelForValue(0);
    ctx.beginPath();
    ctx.moveTo(x0, a.top);
    ctx.lineTo(x0, a.bottom);
    ctx.stroke();
    ctx.setLineDash([]);
    // inward ticks
    ctx.beginPath();
    const xt = (v: number, len: number) => {
      const p = xs.getPixelForValue(v);
      ctx.moveTo(p, a.top); ctx.lineTo(p, a.top + len);
      ctx.moveTo(p, a.bottom); ctx.lineTo(p, a.bottom - len);
    };
    const yt = (v: number, len: number) => {
      const p = ys.getPixelForValue(v);
      ctx.moveTo(a.left, p); ctx.lineTo(a.left + len, p);
      ctx.moveTo(a.right, p); ctx.lineTo(a.right - len, p);
    };
    X_MAJOR.forEach((v) => xt(v, 8));
    X_MINOR.forEach((v) => xt(v, 4));
    Y_MAJOR.forEach((v) => yt(v, 8));
    Y_MINOR.forEach((v) => yt(v, 4));
    ctx.stroke();
    ctx.strokeRect(a.left, a.top, a.right - a.left, a.bottom - a.top);
    // panel name
    ctx.font = `26px ${SERIF}`;
    ctx.textBaseline = "middle";
    ctx.textAlign = "left";
    ctx.fillText(opts.name, a.left + opts.lx, a.top + opts.ly);
    // annotations
    const drawAnn = (ann: Pt[] | undefined, main: string, sub: string) => {
      if (!ann) return;
      const P = (p: Pt) => [xs.getPixelForValue(p[0]), ys.getPixelForValue(p[1])];
      const [tip, tail, tp, sp] = ann.map(P);
      arrow(ctx, tail[0], tail[1], tip[0], tip[1]);
      ctx.textBaseline = "alphabetic";
      ctx.font = `26px ${SERIF}`;
      ctx.fillText(main, tp[0], tp[1]);
      ctx.font = `18px ${SERIF}`;
      ctx.fillText(sub, sp[0], sp[1]);
    };
    drawAnn(opts.t1u, "t", "1u");
    drawAnn(opts.eu, "e", "u");
    ctx.restore();
  },
};

function Panel({ idx }: { idx: number }) {
  const ref = useRef<HTMLCanvasElement | null>(null);
  const isBottom = idx === 3;
  const top = PANEL_TOP + idx * PANEL_H - PAD;
  const h = isBottom ? PAD + PANEL_H + X_AXIS_H : PANEL_H + 2 * PAD;
  useEffect(() => {
    const p = PANELS[idx];
    const line = (data: Pt[], color: string, extra: any = {}) => ({
      data,
      borderColor: color,
      borderWidth: 2,
      pointRadius: 0,
      fill: false,
      tension: 0,
      borderJoinStyle: "round",
      ...extra,
    });
    const tickFont = { family: SERIF, size: 28 };
    const chart = new Chart(ref.current as HTMLCanvasElement, {
      type: "line",
      data: {
        datasets: [
          line(p.co[0], RED), line(p.co[1], RED),
          line(p.fe[0], BLUE), line(p.fe[1], BLUE),
          line(p.xx[0], GREEN), line(p.xx[1], GREEN),
          line(ZERO_LINE, BLACK),
          line(p.tot[0], BLACK, { fill: "origin", backgroundColor: BEIGE }),
          line(p.tot[1], BLACK, { fill: "origin", backgroundColor: BEIGE }),
        ] as any,
      },
      options: {
        animation: false,
        responsive: false,
        maintainAspectRatio: false,
        devicePixelRatio: 1,
        events: [],
        layout: { padding: { top: PAD, bottom: isBottom ? 0 : PAD, left: 0, right: RIGHT_PAD } },
        plugins: {
          legend: { display: false },
          tooltip: { enabled: false },
          frame: {
            name: PANEL_NAMES[idx],
            lx: LABEL_OFFSETS[idx][0],
            ly: LABEL_OFFSETS[idx][1],
            t1u: ANN_T1U[idx],
            eu: ANN_EU[idx],
          },
        } as any,
        scales: {
          x: {
            type: "linear",
            min: -6,
            max: 3,
            display: isBottom,
            grid: { display: false, drawTicks: false },
            border: { display: false },
            afterBuildTicks: (s: any) => { s.ticks = X_TICK_LABELS.map((v) => ({ value: v })); },
            ticks: { color: BLACK, font: tickFont, padding: 9, maxRotation: 0, autoSkip: false, callback: (v: any) => String(v) },
            afterFit: (s: any) => {
              s.height = isBottom ? X_AXIS_H : 0;
              s.paddingLeft = 0; s.paddingRight = 0; s.paddingTop = 0; s.paddingBottom = 0;
            },
          },
          y: {
            type: "linear",
            min: -7,
            max: 7,
            grid: { display: false, drawTicks: false },
            border: { display: false },
            afterBuildTicks: (s: any) => { s.ticks = Y_MAJOR.map((v) => ({ value: v })); },
            ticks: { color: BLACK, font: tickFont, padding: 9, callback: (v: any) => String(v) },
            afterFit: (s: any) => {
              s.width = AXIS_W;
              s.paddingTop = 0; s.paddingBottom = 0; s.paddingLeft = 0; s.paddingRight = 0;
            },
          },
        },
      } as any,
      plugins: [framePlugin as any],
    });
    return () => chart.destroy();
  }, [idx]);
  return (
    <canvas
      ref={ref}
      width={W}
      height={h}
      style={{ position: "absolute", left: 0, top, width: W, height: h }}
    />
  );
}

function Legend() {
  const colors = [BLACK, RED, BLUE, GREEN];
  return (
    <div
      style={{
        position: "absolute", left: 592, top: 152, width: 141, height: 125,
        boxSizing: "border-box", border: "2px solid #000", background: "#fff",
        fontFamily: SERIF, fontSize: 23, color: "#000",
      }}
    >
      {LEGEND_LABELS.map((lab, i) => (
        <div key={lab} style={{ position: "absolute", left: 0, top: 17 + i * 29 - 14, height: 28, display: "flex", alignItems: "center" }}>
          <div style={{ width: 37, height: 2, background: colors[i], marginLeft: 9 }} />
          <div style={{ marginLeft: 19, lineHeight: "28px", whiteSpace: "nowrap" }}>{lab}</div>
        </div>
      ))}
    </div>
  );
}

export default function App() {
  return (
    <div style={{ position: "absolute", left: 0, top: 0, width: W, height: H, background: "#fff", overflow: "hidden" }}>
      {[0, 1, 2, 3].map((i) => <Panel key={i} idx={i} />)}
      <Legend />
      <div
        style={{
          position: "absolute", left: 31, top: 453, fontFamily: SERIF, fontSize: 43, lineHeight: 1,
          whiteSpace: "nowrap", transform: "translate(-50%, -50%) rotate(-90deg) scaleX(1.12)",
        }}
      >
        Density of states (states/eV/f.u.)
      </div>
      <div
        style={{
          position: "absolute", left: 415, top: 922, fontFamily: SERIF, fontSize: 34, lineHeight: 1,
          whiteSpace: "nowrap", transform: "translate(-50%, -50%) scaleX(1.15)",
        }}
      >
        Energy (eV)
      </div>
    </div>
  );
}
